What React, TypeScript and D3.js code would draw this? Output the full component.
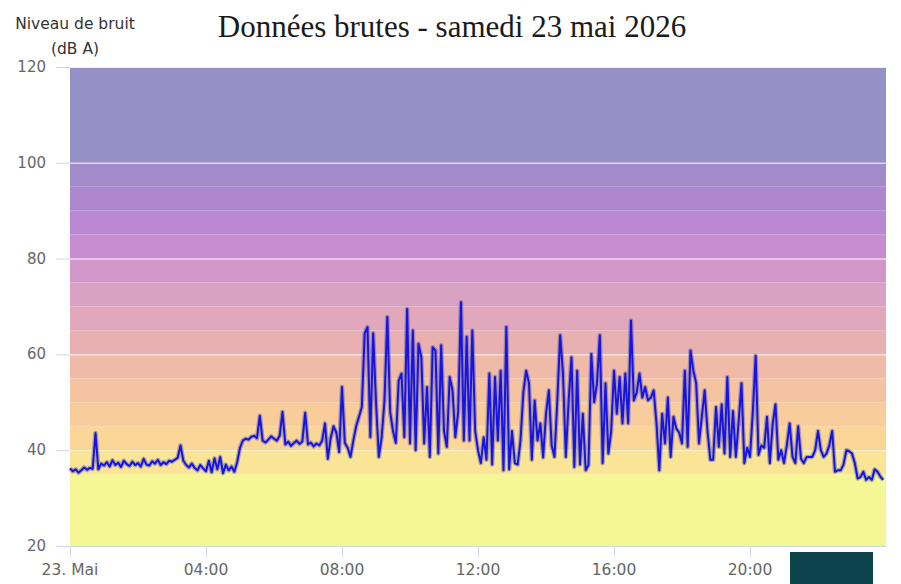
import React, { useEffect, useRef } from 'react';
import * as d3 from 'd3';

// noise level (dB A), one value every 5 minutes, one array per hour
const h00 = [36.2, 35.6, 36.0, 35.3, 35.8, 36.4, 35.9, 36.3, 36.1, 43.6, 36.0, 37.2];
const h01 = [36.8, 37.5, 36.6, 37.9, 36.9, 37.4, 36.5, 37.8, 37.1, 36.7, 37.6, 36.9];
const h02 = [37.3, 36.6, 38.2, 37.0, 36.8, 37.7, 37.2, 38.0, 36.9, 37.5, 37.1, 37.8];
const h03 = [37.6, 38.0, 38.4, 41.0, 37.8, 36.9, 36.4, 37.2, 36.3, 35.8, 36.9, 36.2];
const h04 = [35.6, 37.8, 35.4, 38.3, 36.0, 38.6, 35.2, 37.0, 35.8, 36.6, 35.5, 37.5];
const h05 = [40.5, 42.0, 42.4, 42.2, 42.8, 43.0, 42.5, 47.2, 42.0, 41.6, 42.2, 42.9];
const h06 = [42.4, 42.0, 43.0, 48.0, 41.2, 41.8, 40.9, 41.5, 42.0, 41.3, 41.8, 47.8];
const h07 = [41.2, 41.6, 40.8, 41.4, 41.0, 42.0, 45.6, 38.2, 42.5, 45.0, 43.7, 39.6];
const h08 = [53.2, 41.5, 40.5, 38.6, 42.0, 45.0, 47.0, 49.0, 64.4, 65.7, 42.7, 64.4];
const h09 = [50.0, 38.6, 42.7, 50.4, 67.8, 48.0, 44.0, 41.5, 54.5, 56.0, 42.7, 69.5];
const h10 = [41.4, 65.0, 40.0, 62.2, 59.4, 41.4, 53.2, 38.6, 61.5, 60.8, 39.3, 61.9];
const h11 = [44.0, 40.7, 55.3, 52.5, 42.7, 48.0, 70.9, 42.0, 63.7, 42.0, 65.0, 44.0];
const h12 = [40.0, 37.3, 42.7, 38.0, 56.0, 37.0, 55.3, 42.0, 56.6, 35.8, 65.7, 36.0];
const h13 = [44.0, 37.3, 37.0, 42.0, 52.0, 56.6, 54.0, 38.0, 50.4, 42.0, 45.6, 38.5];
const h14 = [47.6, 52.5, 41.0, 38.6, 50.4, 64.0, 56.0, 38.6, 50.4, 59.4, 36.5, 56.6];
const h15 = [37.0, 47.6, 35.8, 36.9, 60.1, 50.0, 54.0, 64.0, 37.3, 54.0, 39.3, 44.0];
const h16 = [56.6, 47.6, 55.3, 45.6, 56.0, 45.6, 67.1, 50.4, 52.0, 56.0, 51.0, 53.2];
const h17 = [50.4, 51.0, 52.5, 45.6, 35.8, 47.6, 41.4, 51.0, 38.6, 47.0, 44.5, 43.7];
const h18 = [41.4, 56.6, 40.7, 60.8, 56.6, 54.0, 41.4, 47.0, 52.5, 44.0, 38.0, 38.0];
const h19 = [49.0, 40.7, 49.6, 39.3, 55.3, 38.6, 48.2, 38.6, 46.0, 54.0, 37.3, 40.5];
const h20 = [38.6, 48.0, 59.7, 39.0, 41.0, 40.5, 47.0, 37.3, 45.5, 49.6, 38.0, 40.0];
const h21 = [37.3, 41.0, 45.6, 38.6, 37.3, 45.0, 38.2, 37.3, 38.6, 38.6, 38.6, 40.0];
const h22 = [44.0, 40.0, 38.6, 39.3, 41.0, 44.0, 35.5, 35.8, 35.8, 37.0, 40.0, 39.8];
const h23 = [39.3, 37.3, 34.1, 34.4, 35.5, 33.8, 34.4, 33.8, 36.0, 35.5, 34.5, 33.8];

const hours = [h00, h01, h02, h03, h04, h05, h06, h07, h08, h09, h10, h11,
  h12, h13, h14, h15, h16, h17, h18, h19, h20, h21, h22, h23];

// background colour bands (dB limits and colours)
const bandStops = [20, 35, 40, 45, 50, 55, 60, 65, 70, 75, 80, 85, 90, 95, 100, 120];
const bandColors = ['#f5f795', '#fae495', '#fbd696', '#f8cc9b', '#f4c3a1', '#efbaa8',
  '#e8b0b0', '#e0a8ba', '#d9a1c2', '#d097c8', '#c78dd0', '#bb88d4', '#ae88cf', '#a18bc9', '#9590c5'];

const yTicks = [20, 40, 60, 80, 100, 120];
const xTicks = [0, 4, 8, 12, 16, 20];
const xLabels = ['23. Mai', '04:00', '08:00', '12:00', '16:00', '20:00'];

export default function App() {
  const svgRef = useRef<SVGSVGElement>(null);

  useEffect(() => {
    if (!svgRef.current) return;
    const svg = d3.select(svgRef.current);
    svg.selectAll('*').remove();

    const x = d3.scaleLinear().domain([0, 24]).range([70, 886]);
    const y = d3.scaleLinear().domain([20, 120]).range([546, 67]);
    const font = '"DejaVu Sans", sans-serif';

    const data = hours.flatMap((vals, h) => vals.map((v, i) => ({ t: h + i / 12, v })));

    // bands
    svg.append('g')
      .selectAll('rect')
      .data(bandColors)
      .enter()
      .append('rect')
      .attr('x', x(0))
      .attr('width', x(24) - x(0))
      .attr('y', (_, i) => y(bandStops[i + 1]))
      .attr('height', (_, i) => y(bandStops[i]) - y(bandStops[i + 1]))
      .attr('fill', d => d);

    // grid
    svg.append('g')
      .selectAll('line')
      .data(yTicks.slice(1))
      .enter()
      .append('line')
      .attr('x1', x(0))
      .attr('x2', x(24))
      .attr('y1', d => y(d) + 0.5)
      .attr('y2', d => y(d) + 0.5)
      .attr('stroke', '#ffffff')
      .attr('stroke-opacity', d => (d === 40 ? 0.45 : 0.85))
      .attr('stroke-width', 1);

    // y ticks and labels
    const ya = svg.append('g');
    ya.selectAll('line')
      .data(yTicks)
      .enter()
      .append('line')
      .attr('x1', 56)
      .attr('x2', x(0))
      .attr('y1', d => y(d) + 0.5)
      .attr('y2', d => y(d) + 0.5)
      .attr('stroke', '#ccd6eb');
    ya.selectAll('text')
      .data(yTicks)
      .enter()
      .append('text')
      .attr('x', 46)
      .attr('y', d => y(d) + 5)
      .attr('text-anchor', 'end')
      .attr('font-family', font)
      .attr('font-size', '15px')
      .attr('fill', '#666666')
      .text(d => d);

    // x axis
    const xa = svg.append('g');
    xa.append('line')
      .attr('x1', x(0))
      .attr('x2', x(24))
      .attr('y1', y(20) + 0.5)
      .attr('y2', y(20) + 0.5)
      .attr('stroke', '#ccd6eb');
    xa.selectAll('line.tick')
      .data(xTicks)
      .enter()
      .append('line')
      .attr('class', 'tick')
      .attr('x1', d => x(d) + 0.5)
      .attr('x2', d => x(d) + 0.5)
      .attr('y1', y(20))
      .attr('y2', y(20) + 11)
      .attr('stroke', '#ccd6eb');
    xa.selectAll('text')
      .data(xTicks)
      .enter()
      .append('text')
      .attr('x', d => x(d))
      .attr('y', 575)
      .attr('text-anchor', 'middle')
      .attr('font-family', font)
      .attr('font-size', '15.5px')
      .attr('fill', '#666666')
      .text((_, i) => xLabels[i]);

    // series
    const line = d3.line<{ t: number; v: number }>()
      .x(d => x(d.t))
      .y(d => y(d.v));

    svg.append('path')
      .datum(data)
      .attr('d', line)
      .attr('fill', 'none')
      .attr('stroke', 'rgba(70,70,150,0.4)')
      .attr('stroke-width', 4.5)
      .attr('stroke-linejoin', 'round');

    svg.append('path')
      .datum(data)
      .attr('d', line)
      .attr('fill', 'none')
      .attr('stroke', '#1414e6')
      .attr('stroke-width', 2)
      .attr('stroke-linejoin', 'round');

    // titles
    svg.append('text')
      .attr('x', 452)
      .attr('y', 37)
      .attr('text-anchor', 'middle')
      .attr('font-family', '"Liberation Serif", serif')
      .attr('font-size', '31px')
      .attr('fill', '#1a1a1a')
      .text('Données brutes - samedi 23 mai 2026');

    svg.append('text')
      .attr('x', 75)
      .attr('y', 29)
      .attr('text-anchor', 'middle')
      .attr('font-family', font)
      .attr('font-size', '15.5px')
      .attr('fill', '#333333')
      .text('Niveau de bruit');
    svg.append('text')
      .attr('x', 75)
      .attr('y', 54)
      .attr('text-anchor', 'middle')
      .attr('font-family', font)
      .attr('font-size', '15.5px')
      .attr('fill', '#333333')
      .text('(dB A)');

    // dark button in the corner
    svg.append('rect')
      .attr('x', 790)
      .attr('y', 552)
      .attr('width', 83)
      .attr('height', 32)
      .attr('fill', '#0d444c');
  }, []);

  return (
    <svg
      ref={svgRef}
      width={901}
      height={584}
      style={{ position: 'absolute', left: 0, top: 0, background: '#ffffff' }}
    />
  );
}
